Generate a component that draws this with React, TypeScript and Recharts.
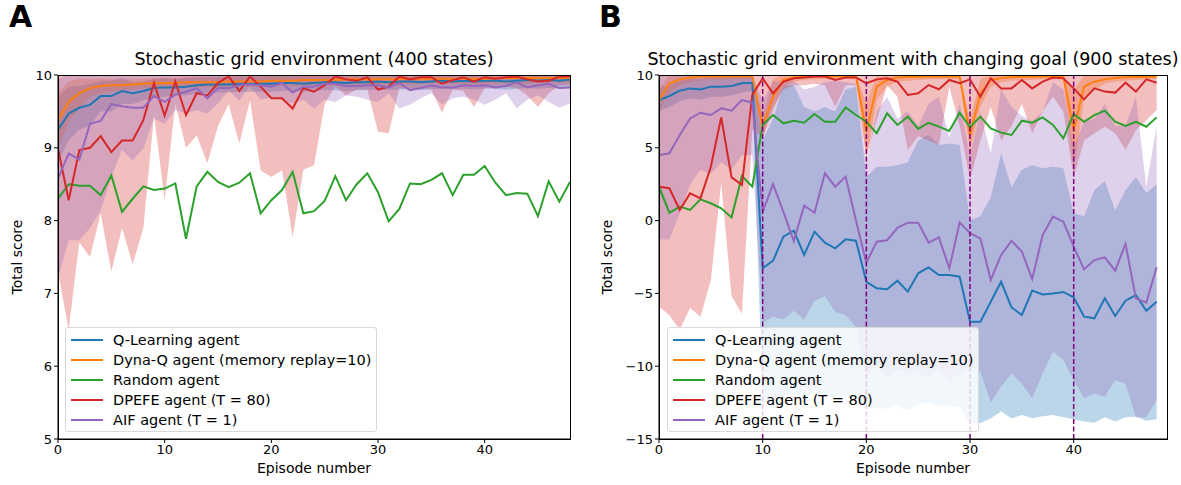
import React from 'react';
import { ComposedChart, Line, Area, XAxis, YAxis, ReferenceLine } from 'recharts';

const FONT = 'DejaVu Sans, sans-serif';

const BLUE = '#1f77b4';
const ORANGE = '#ff7f0e';
const GREEN = '#2ca02c';
const RED = '#d62728';
const PURPLE = '#9467bd';

const episodes = Array.from({ length: 49 }, (_, i) => i);

const seriesNames = [
  'Q-Learning agent',
  'Dyna-Q agent (memory replay=10)',
  'Random agent',
  'DPEFE agent (T = 80)',
  'AIF agent (T = 1)',
];
const seriesColors = [BLUE, ORANGE, GREEN, RED, PURPLE];

// ---------- Panel A: stochastic grid (400 states) ----------
const qA = [9.25, 9.47, 9.55, 9.59, 9.71, 9.71, 9.78, 9.75, 9.78, 9.82, 9.83, 9.83, 9.84, 9.86, 9.87, 9.87, 9.87, 9.88, 9.88, 9.88, 9.88, 9.89, 9.89, 9.88, 9.89, 9.9, 9.9, 9.89, 9.9, 9.9, 9.91, 9.9, 9.91, 9.91, 9.9, 9.91, 9.92, 9.91, 9.92, 9.91, 9.92, 9.92, 9.91, 9.92, 9.93, 9.92, 9.93, 9.92, 9.94];
const qLoA = [8.8, 9.1, 9.25, 9.3, 9.5, 9.5, 9.6, 9.6, 9.65, 9.7, 9.7, 9.72, 9.72, 9.75, 9.76, 9.76, 9.76, 9.77, 9.77, 9.77, 9.77, 9.78, 9.78, 9.77, 9.78, 9.79, 9.79, 9.78, 9.79, 9.79, 9.8, 9.79, 9.8, 9.8, 9.79, 9.8, 9.81, 9.8, 9.81, 9.8, 9.81, 9.81, 9.8, 9.81, 9.82, 9.81, 9.82, 9.81, 9.83];
const qHiA = [9.7, 9.84, 9.85, 9.88, 9.92, 9.92, 9.96, 9.9, 9.91, 9.94, 9.96, 9.94, 9.96, 9.97, 9.98, 9.98, 9.98, 9.99, 9.99, 9.99, 9.99, 10, 10, 10, 10, 10, 10, 10, 10, 10, 10, 10, 10, 10, 10, 10, 10, 10, 10, 10, 10, 10, 10, 10, 10, 10, 10, 10, 10];

const dynaA = [9.38, 9.63, 9.75, 9.82, 9.85, 9.86, 9.86, 9.87, 9.88, 9.89, 9.89, 9.89, 9.9, 9.9, 9.9, 9.9, 9.91, 9.91, 9.91, 9.91, 9.92, 9.92, 9.92, 9.93, 9.93, 9.93, 9.93, 9.94, 9.94, 9.94, 9.94, 9.94, 9.94, 9.95, 9.95, 9.95, 9.95, 9.95, 9.95, 9.95, 9.95, 9.96, 9.96, 9.96, 9.96, 9.96, 9.96, 9.96, 9.96];
const dynaLoA = [9.0, 9.35, 9.55, 9.7, 9.75, 9.78, 9.78, 9.8, 9.81, 9.82, 9.82, 9.82, 9.83, 9.83, 9.83, 9.83, 9.84, 9.84, 9.84, 9.84, 9.85, 9.85, 9.85, 9.86, 9.86, 9.86, 9.86, 9.87, 9.87, 9.87, 9.87, 9.87, 9.87, 9.88, 9.88, 9.88, 9.88, 9.88, 9.88, 9.88, 9.88, 9.89, 9.89, 9.89, 9.89, 9.89, 9.89, 9.89, 9.89];
const dynaHiA = [9.76, 9.91, 9.95, 9.94, 9.95, 9.94, 9.94, 9.94, 9.95, 9.96, 9.96, 9.96, 9.97, 9.97, 9.97, 9.97, 9.98, 9.98, 9.98, 9.98, 9.99, 9.99, 9.99, 10, 10, 10, 10, 10, 10, 10, 10, 10, 10, 10, 10, 10, 10, 10, 10, 10, 10, 10, 10, 10, 10, 10, 10, 10, 10];

const randomA = [8.3, 8.5, 8.48, 8.48, 8.35, 8.62, 8.12, 8.3, 8.47, 8.42, 8.44, 8.51, 7.75, 8.47, 8.67, 8.53, 8.46, 8.52, 8.65, 8.1, 8.28, 8.42, 8.67, 8.1, 8.13, 8.27, 8.61, 8.28, 8.5, 8.65, 8.39, 7.99, 8.16, 8.51, 8.5, 8.56, 8.65, 8.35, 8.63, 8.63, 8.75, 8.52, 8.35, 8.38, 8.37, 8.06, 8.54, 8.26, 8.53];

const dpefeA = [8.99, 8.28, 8.97, 9.0, 9.16, 8.94, 9.1, 9.1, 9.38, 9.89, 9.44, 9.91, 9.45, 9.75, 9.72, 9.89, 9.98, 9.78, 9.98, 9.84, 9.68, 9.68, 9.54, 9.82, 9.77, 9.86, 9.98, 9.94, 9.92, 9.97, 9.8, 9.84, 9.98, 9.94, 9.97, 9.97, 9.88, 9.93, 9.97, 9.91, 9.97, 9.95, 9.97, 9.98, 9.94, 9.91, 9.92, 9.98, 9.98];
const dpefeLoA = [7.3, 6.5, 7.7, 7.5, 8.1, 7.3, 7.9, 7.4, 7.9, 9.45, 8.28, 9.6, 9.0, 9.17, 8.79, 9.3, 9.6, 9.06, 9.65, 8.69, 8.6, 8.69, 7.77, 8.7, 8.76, 9.6, 9.85, 9.72, 9.8, 9.8, 9.22, 9.2, 9.82, 9.8, 9.82, 9.8, 9.48, 9.8, 9.78, 9.56, 9.82, 9.84, 9.84, 9.82, 9.72, 9.56, 9.75, 9.86, 9.86];
const dpefeHiA = [10, 10, 10, 10, 10, 10, 10, 10, 10, 10, 10, 10, 10, 10, 10, 10, 10, 10, 10, 10, 10, 10, 10, 10, 10, 10, 10, 10, 10, 10, 10, 10, 10, 10, 10, 10, 10, 10, 10, 10, 10, 10, 10, 10, 10, 10, 10, 10, 10];

const aifA = [8.58, 8.92, 8.84, 9.33, 9.37, 9.6, 9.57, 9.55, 9.55, 9.71, 9.63, 9.73, 9.77, 9.82, 9.68, 9.82, 9.82, 9.86, 9.87, 9.86, 9.84, 9.89, 9.76, 9.84, 9.84, 9.88, 9.88, 9.85, 9.85, 9.86, 9.86, 9.83, 9.89, 9.79, 9.82, 9.86, 9.83, 9.83, 9.86, 9.85, 9.86, 9.83, 9.85, 9.9, 9.83, 9.86, 9.88, 9.82, 9.83];
const aifLoA = [7.2, 7.73, 7.73, 7.9, 8.14, 8.6, 8.97, 8.83, 8.99, 9.4, 9.33, 9.52, 9.47, 9.52, 9.47, 9.61, 9.79, 9.65, 9.85, 9.66, 9.7, 9.66, 9.61, 9.66, 9.54, 9.66, 9.63, 9.72, 9.7, 9.66, 9.63, 9.75, 9.54, 9.59, 9.68, 9.75, 9.59, 9.68, 9.7, 9.66, 9.59, 9.66, 9.75, 9.54, 9.66, 9.72, 9.63, 9.55, 9.61];
const aifHiA = [9.95, 10, 10, 10, 10, 10, 10, 10, 10, 10, 10, 10, 10, 10, 10, 10, 10, 10, 10, 10, 10, 10, 10, 10, 10, 10, 10, 10, 10, 10, 10, 10, 10, 10, 10, 10, 10, 10, 10, 10, 10, 10, 10, 10, 10, 10, 10, 10, 10];

// ---------- Panel B: changing goal (900 states) ----------
const qB = [8.28, 8.56, 8.92, 9.08, 9.0, 9.2, 9.2, 9.25, 9.43, 9.47, -3.28, -2.75, -1.1, -0.69, -2.36, -0.76, -1.51, -1.9, -1.29, -1.38, -4.2, -4.65, -4.72, -4.13, -4.88, -3.62, -3.21, -3.74, -3.74, -3.85, -6.94, -6.94, -5.57, -4.2, -5.96, -6.48, -4.81, -5.07, -5.0, -4.9, -5.27, -6.6, -6.71, -5.34, -6.55, -5.5, -5.11, -6.19, -5.57];
const qLoB = [7.5, 7.8, 8.2, 8.4, 8.3, 8.5, 8.5, 8.6, 8.8, 8.9, -12.5, -12.3, -12.0, -11.8, -12.4, -11.6, -12.0, -12.2, -12.0, -12.1, -12.8, -12.9, -12.9, -12.7, -13.0, -12.6, -12.5, -12.7, -12.7, -12.8, -13.9, -13.9, -13.6, -13.1, -13.6, -13.35, -13.58, -13.43, -13.35, -13.51, -13.65, -13.8, -13.88, -13.51, -13.8, -13.51, -13.47, -13.74, -13.65];
const qHiB = [9.1, 9.3, 9.6, 9.75, 9.7, 9.9, 9.9, 9.9, 10, 10, 5.5, 7.0, 9.3, 9.3, 7.8, 7.5, 7.8, 7.5, 9.0, 9.2, 3.0, 3.7, 3.7, 3.8, 4.0, 5.5, 5.9, 5.2, 5.3, 5.2, 0.0, 0.3, 1.6, 4.6, 2.3, 3.5, 3.8, 3.6, 3.7, 3.6, 0.5, 0.3, 2.1, 2.7, 0.7, 2.1, 3.0, 1.9, 2.5];

const dynaB = [8.28, 9.43, 9.7, 9.83, 9.89, 9.9, 9.9, 9.91, 9.91, 9.92, 6.45, 8.51, 9.66, 9.83, 9.88, 9.9, 9.9, 9.91, 9.91, 9.92, 6.11, 9.2, 9.66, 9.83, 9.86, 9.88, 9.9, 9.9, 9.9, 9.9, 5.88, 8.74, 9.66, 9.8, 9.85, 9.88, 9.88, 9.9, 9.9, 9.9, 6.22, 9.2, 9.54, 9.7, 9.8, 9.85, 9.86, 9.88, 9.88];
const dynaLoB = [7.5, 8.8, 9.3, 9.5, 9.6, 9.65, 9.65, 9.7, 9.7, 9.7, 5.7, 7.5, 9.2, 9.55, 9.65, 9.7, 9.7, 9.72, 9.72, 9.72, 4.2, 8.3, 9.2, 9.55, 9.6, 9.65, 9.7, 9.7, 9.7, 9.7, 4.85, 7.8, 9.2, 9.5, 9.6, 9.65, 9.65, 9.7, 9.7, 9.7, 3.5, 8.3, 9.0, 9.4, 9.55, 9.6, 9.65, 9.7, 9.7];
const dynaHiB = [9.06, 10, 10, 10, 10, 10, 10, 10, 10, 10, 7.2, 9.7, 10, 10, 10, 10, 10, 10, 10, 10, 8.0, 10, 10, 10, 10, 10, 10, 10, 10, 10, 6.9, 9.7, 10, 10, 10, 10, 10, 10, 10, 10, 8.9, 10, 10, 10, 10, 10, 10, 10, 10];

const randomB = [2.33, 0.54, 0.96, 0.73, 1.46, 1.19, 0.84, 0.22, 3.06, 2.33, 6.57, 7.25, 6.68, 6.86, 6.72, 7.32, 6.79, 6.79, 7.78, 7.25, 6.79, 6.0, 7.37, 6.57, 7.14, 6.3, 6.72, 6.45, 6.15, 7.41, 6.41, 7.14, 6.33, 6.04, 5.88, 6.86, 6.72, 7.09, 6.57, 5.65, 7.32, 6.79, 7.25, 7.55, 6.79, 6.5, 6.79, 6.45, 7.09];

const dpefeB = [2.33, 2.22, 0.73, 1.87, 1.53, 3.7, 7.09, 2.97, 2.45, 8.63, 9.77, 8.74, 9.54, 9.77, 9.83, 9.89, 9.89, 9.66, 9.83, 9.83, 9.43, 9.7, 9.77, 9.54, 8.63, 8.74, 9.31, 9.02, 9.66, 9.43, 9.7, 8.51, 9.77, 9.08, 9.08, 9.66, 9.08, 9.54, 9.83, 9.77, 9.08, 8.33, 9.08, 8.86, 8.79, 9.47, 8.86, 9.7, 9.47];
const dpefeLoB = [-5.9, -6.5, -7.5, -6.0, -6.6, -4.1, 2.6, -5.2, -6.4, 6.2, 5.7, 7.8, 9.0, 9.3, 9.3, 9.4, 9.3, 7.8, 9.3, 9.3, 4.4, 6.9, 9.3, 8.5, 4.85, 5.8, 5.5, 5.2, 9.2, 6.5, 2.8, 5.5, 7.8, 5.5, 6.5, 8.0, 6.0, 7.5, 8.5, 7.5, 3.0, 5.5, 6.0, 6.45, 6.0, 4.85, 6.2, 6.9, 7.6];
const dpefeHiB = [10, 10, 10, 10, 10, 10, 10, 10, 10, 10, 10, 10, 10, 10, 10, 10, 10, 10, 10, 10, 10, 10, 10, 10, 10, 10, 10, 10, 10, 10, 10, 10, 10, 10, 10, 10, 10, 10, 10, 10, 10, 10, 10, 10, 10, 10, 10, 10, 10];

const aifB = [4.51, 4.62, 5.88, 7.02, 7.41, 7.25, 7.71, 7.55, 8.28, 8.1, 0.6, 2.5, 0.6, -1.4, 1.03, 0.54, 3.25, 2.33, 3.02, 0.0, -2.9, -1.45, -1.35, -0.5, -0.14, -0.14, -1.51, -1.15, -3.28, -0.14, -0.87, -1.22, -4.08, -2.36, -1.38, -2.13, -4.01, -0.99, 0.27, -0.07, -1.79, -3.35, -2.71, -2.52, -3.44, -1.6, -5.34, -5.64, -3.21];
const aifLoB = [-1.3, -1.3, 0.5, 2.5, 3.5, 3.2, 4.0, 3.5, 4.5, 4.5, -7.0, -6.6, -6.8, -6.2, -6.8, -5.5, -5.2, -6.26, -6.5, -7.3, -10.5, -10.0, -10.8, -10.2, -10.5, -10.4, -10.8, -10.2, -11.0, -10.5, -10.0, -10.37, -12.5, -11.4, -10.5, -11.2, -12.2, -10.5, -9.0, -9.57, -10.95, -12.2, -11.87, -12.1, -10.95, -11.2, -13.5, -13.5, -12.3];
const aifHiB = [10, 10, 10, 10, 10, 10, 10, 10, 10, 10, 8.2, 9.6, 9.5, 9.6, 9.0, 9.2, 9.5, 9.6, 9.5, 9.4, 4.0, 7.5, 8.5, 7.0, 7.5, 6.5, 8.0, 8.5, 5.7, 8.0, 4.5, 7.5, 4.6, 9.0, 7.8, 7.2, 6.8, 7.5, 9.5, 9.0, 5.0, 6.8, 7.0, 8.0, 6.5, 6.5, 8.5, 2.3, 6.5];

const goalChanges = [10, 20, 30, 40];

const dataA = episodes.map((ep, i) => ({
  ep,
  q: qA[i], dyna: dynaA[i], rand: randomA[i], dpefe: dpefeA[i], aif: aifA[i],
  qBand: [qLoA[i], qHiA[i]],
  dynaBand: [dynaLoA[i], dynaHiA[i]],
  dpefeBand: [dpefeLoA[i], dpefeHiA[i]],
  aifBand: [aifLoA[i], aifHiA[i]],
}));

const dataB = episodes.map((ep, i) => ({
  ep,
  q: qB[i], dyna: dynaB[i], rand: randomB[i], dpefe: dpefeB[i], aif: aifB[i],
  qBand: [qLoB[i], qHiB[i]],
  dynaBand: [dynaLoB[i], dynaHiB[i]],
  dpefeBand: [dpefeLoB[i], dpefeHiB[i]],
  aifBand: [aifLoB[i], aifHiB[i]],
}));

const tickStyle = { fill: '#000', fontSize: 13, fontFamily: FONT };
// matplotlib prints negatives with a real minus sign
const minusFmt = (v: number) => (v < 0 ? `\u2212${Math.abs(v)}` : `${v}`);

function renderSeries() {
  const bands = [
    ['qBand', BLUE],
    ['dynaBand', ORANGE],
    ['dpefeBand', RED],
    ['aifBand', PURPLE],
  ].map(([key, color]) => (
    <Area
      key={key}
      type="linear"
      dataKey={key}
      stroke="none"
      fill={color}
      fillOpacity={0.3}
      isAnimationActive={false}
      dot={false}
      activeDot={false}
    />
  ));
  const lines = ['q', 'dyna', 'rand', 'dpefe', 'aif'].map((key, i) => (
    <Line
      key={key}
      type="linear"
      dataKey={key}
      stroke={seriesColors[i]}
      strokeWidth={2}
      dot={false}
      activeDot={false}
      isAnimationActive={false}
    />
  ));
  return [...bands, ...lines];
}

function LegendBox({ left, top }: { left: number; top: number }) {
  return (
    <div
      style={{
        position: 'absolute', left, top, width: 312, height: 105,
        background: 'rgba(255,255,255,0.8)', border: '1px solid #d9d9d9',
        borderRadius: 3, boxSizing: 'border-box', fontFamily: FONT, fontSize: 14.5,
      }}
    >
      {seriesNames.map((name, i) => (
        <div key={name} style={{ position: 'absolute', left: 5, top: 2 + i * 20, height: 20, display: 'flex', alignItems: 'center' }}>
          <div style={{ width: 32, height: 2, background: seriesColors[i], marginRight: 10 }} />
          <span style={{ whiteSpace: 'nowrap' }}>{name}</span>
        </div>
      ))}
    </div>
  );
}

function Frame({ left, top, width, height }: { left: number; top: number; width: number; height: number }) {
  return (
    <div style={{ position: 'absolute', left, top, width, height, border: '1px solid #000', boxSizing: 'border-box', pointerEvents: 'none' }} />
  );
}

const text = (extra: React.CSSProperties): React.CSSProperties => ({
  position: 'absolute', fontFamily: FONT, color: '#000', whiteSpace: 'nowrap', ...extra,
});

export default function App() {
  return (
    <div style={{ position: 'absolute', left: 0, top: 0, width: 1181, height: 485, background: '#fff', overflow: 'hidden' }}>
      {/* Panel A */}
      <div style={{ position: 'absolute', left: 0, top: 0 }}>
        <ComposedChart width={600} height={485} data={dataA} margin={{ top: 75, right: 30, bottom: 16, left: 18 }}>
          <XAxis
            dataKey="ep" type="number" domain={[0, 48]} ticks={[0, 10, 20, 30, 40]}
            height={30} tickSize={4} tick={tickStyle} axisLine={{ stroke: '#000' }} tickLine={{ stroke: '#000' }}
            allowDataOverflow
          />
          <YAxis
            domain={[5, 10]} ticks={[5, 6, 7, 8, 9, 10]} width={40} tickSize={4}
            tick={tickStyle} axisLine={{ stroke: '#000' }} tickLine={{ stroke: '#000' }} allowDataOverflow
          />
          {renderSeries()}
        </ComposedChart>
      </div>
      <Frame left={58} top={75} width={513} height={365} />
      <LegendBox left={65} top={327} />

      {/* Panel B */}
      <div style={{ position: 'absolute', left: 600, top: 0 }}>
        <ComposedChart width={581} height={485} data={dataB} margin={{ top: 75, right: 14, bottom: 16, left: 19 }}>
          <XAxis
            dataKey="ep" type="number" domain={[0, 49]} ticks={[0, 10, 20, 30, 40]}
            height={30} tickSize={4} tick={tickStyle} axisLine={{ stroke: '#000' }} tickLine={{ stroke: '#000' }}
            allowDataOverflow
          />
          <YAxis
            domain={[-15, 10]} ticks={[-15, -10, -5, 0, 5, 10]} width={40} tickSize={4}
            tick={tickStyle} axisLine={{ stroke: '#000' }} tickLine={{ stroke: '#000' }} allowDataOverflow
            tickFormatter={minusFmt}
          />
          {renderSeries()}
          {goalChanges.map((x) => (
            <ReferenceLine key={x} x={x} stroke="#800080" strokeWidth={1.5} strokeDasharray="5 2.5" />
          ))}
        </ComposedChart>
      </div>
      <Frame left={659} top={75} width={509} height={365} />
      <LegendBox left={667} top={327} />

      {/* Text */}
      <div style={text({ left: 9, top: 2, fontSize: 30, lineHeight: 1, fontWeight: 'bold' })}>A</div>
      <div style={text({ left: 599, top: 2, fontSize: 30, lineHeight: 1, fontWeight: 'bold' })}>B</div>
      <div style={text({ left: 314, top: 49, fontSize: 17.5, transform: 'translateX(-50%)' })}>Stochastic grid environment (400 states)</div>
      <div style={text({ left: 913, top: 49, fontSize: 17.5, transform: 'translateX(-50%)' })}>Stochastic grid environment with changing goal (900 states)</div>
      <div style={text({ left: 314, top: 460, fontSize: 14, transform: 'translateX(-50%)' })}>Episode number</div>
      <div style={text({ left: 913, top: 460, fontSize: 14, transform: 'translateX(-50%)' })}>Episode number</div>
      <div style={text({ left: 17, top: 257, fontSize: 14, transform: 'translate(-50%, -50%) rotate(-90deg)' })}>Total score</div>
      <div style={text({ left: 607, top: 257, fontSize: 14, transform: 'translate(-50%, -50%) rotate(-90deg)' })}>Total score</div>
    </div>
  );
}
